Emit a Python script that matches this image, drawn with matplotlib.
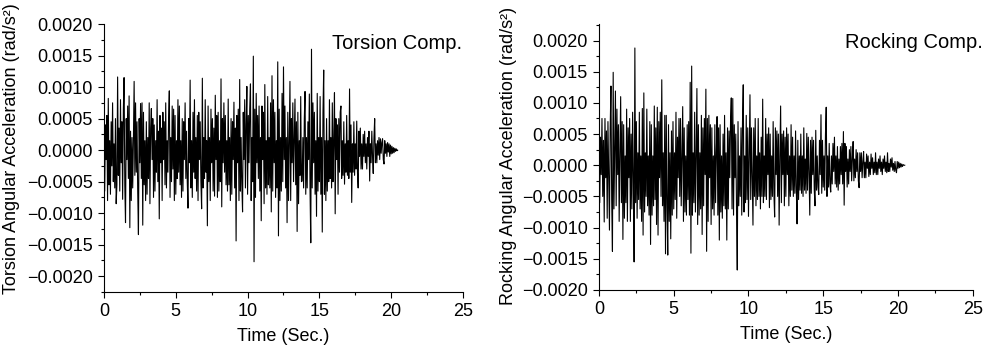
import numpy as np
import matplotlib
matplotlib.use("Agg")
import matplotlib.pyplot as plt
from matplotlib.ticker import MultipleLocator, FuncFormatter

plt.rcParams['font.family'] = ['Liberation Sans', 'DejaVu Sans']

dt = 0.05
torsion = [
    2.5, -6.5, 4.0, -1.5, 5.5, -8.0, 8.2, -5.5, 1.5, -7.0,
    4.5, -2.5, 7.5, -5.0, 1.0, -6.0, 5.0, -8.5, -5.5, 11.6,
    -4.0, 3.5, -6.5, 8.0, -2.0, 4.5, -7.8, 6.5, 11.5, -5.5,
    -11.5, 5.0, -1.5, 7.0, -4.5, 8.6, -12.3, 3.0, -8.0, 2.0,
    -6.0, 1.5, 10.9, -4.0, 7.5, -3.5, 4.5, -6.5, -13.4, 5.0,
    -2.0, 7.4, -4.5, 7.5, -11.9, 6.0, -5.5, 1.5, -8.0, 4.5,
    -7.0, 2.0, -4.5, 7.5, -8.5, 3.5, 6.6, -1.5, 5.0, -7.5,
    4.0, -6.5, 1.5, -3.5, 8.0, -5.0, 3.0, -10.9, 5.5, -2.0,
    3.5, -8.0, 6.0, -1.5, 4.5, -5.5, 7.5, -6.0, 1.5, -3.5,
    5.0, 9.4, -7.5, 2.0, -5.0, 7.0, -3.0, 6.5, -8.0, 5.5,
    -7.0, 1.5, -4.5, 8.0, -3.5, 7.0, -5.5, 1.5, -7.5, 5.0,
    -6.5, 4.5, -1.5, 7.5, -4.5, 3.0, -5.0, -9.2, 5.0, -2.0,
    11.1, -6.0, 1.5, -7.5, 6.0, -3.5, 8.0, -4.5, 2.0, -6.5,
    5.5, -8.0, 6.0, -1.5, 4.5, -5.0, -9.3, 11.4, -6.0, 2.0,
    -4.5, 8.0, -3.5, 1.5, -12.0, 7.0, -5.0, 2.0, -8.0, 6.5,
    -2.0, 5.0, -6.5, 3.5, -7.3, 8.7, -1.5, 5.5, -7.5, 6.0,
    -6.5, 1.5, -5.0, 11.3, -9.0, 5.0, -2.0, 7.5, -3.5, 5.5,
    -5.5, 1.5, -6.5, 8.1, -5.5, 2.0, -8.0, 5.0, -7.0, 4.5,
    -1.5, 7.6, -6.0, 3.5, -14.4, 5.5, -2.0, 6.5, -8.0, 11.2,
    -6.5, 2.0, -5.5, -9.8, 6.0, -1.5, 8.0, -6.0, 4.0, 10.1,
    -7.0, 5.5, -2.0, 6.5, 10.5, -8.0, 2.0, -5.0, 14.9, -17.7,
    6.5, -7.5, 9.0, -2.0, 5.5, -4.5, 7.0, -6.5, 2.0, -11.2,
    7.0, -1.5, 6.0, -8.5, 10.4, -6.0, 1.5, -7.0, 8.5, -5.5,
    2.0, -6.0, 7.5, -9.8, 11.8, -6.5, 8.0, -2.0, 6.0, -7.5,
    1.5, -6.0, 14.0, -13.6, 6.5, -8.0, 2.0, -6.5, 9.0, -5.0,
    13.2, -1.5, 7.0, -6.0, 2.0, -11.5, 6.0, -8.0, 1.5, 10.9,
    -8.0, 5.0, -2.0, 7.5, -5.0, 1.5, 8.1, -5.5, 4.5, -12.9,
    6.0, -8.5, 1.5, -4.0, 8.5, -5.0, -4.9, 2.0, -6.0, 5.0,
    9.3, -7.0, 2.0, -6.0, 4.5, -1.5, 8.9, -6.5, -14.7, 16.0,
    -6.0, 7.5, -2.0, 6.0, -7.0, 1.5, -10.5, 9.0, -6.5, 2.0,
    -5.0, 8.5, -7.0, 2.0, -13.0, 6.0, 12.7, -7.0, 1.5, -8.0,
    5.0, -6.5, 1.5, -5.0, 8.0, -4.5, 2.0, -6.0, 7.5, -5.0,
    1.5, 9.1, -10.1, 5.0, -1.5, 4.0, -7.0, 5.0, -3.5, 6.0,
    7.0, -4.5, 1.5, -4.0, 4.5, -5.4, 1.0, -3.5, 5.5, -4.0,
    1.5, -4.5, 9.7, -3.5, 4.0, -8.3, 1.0, -3.5, 4.5, -4.0,
    1.0, -3.0, 4.6, -3.5, -6.0, 3.0, -1.0, 3.5, -3.0, 1.0,
    -3.0, 2.5, -1.0, 3.0, -2.0, 1.0, -3.0, 2.0, -1.0, 3.0,
    -4.9, 1.0, -2.0, 3.0, -1.0, -3.7, 2.0, 5.0, -2.0, 1.0,
    -2.0, 1.5, -0.8, 2.0, -1.5, 1.8, -0.5, 1.2, 1.8, -1.5,
    -2.2, 1.5, -0.5, 1.0, -1.0, 1.2, -0.3, 1.0, -1.0, 0.8,
    -0.6, 0.6, -0.5, 0.4, -0.4, 0.3, -0.2, 0.2, -0.1, 0.0,
]
rocking = [
    2.0, -6.0, 4.5, -1.5, 7.5, -5.0, 4.0, -9.1, 7.5, -2.0,
    5.5, -8.5, 7.0, -1.5, -10.4, 6.0, 12.7, -5.5, -13.8, 14.9,
    -7.0, 2.0, 11.9, -6.5, 9.0, -1.5, 6.5, -9.0, 2.0, 11.0,
    -6.0, 7.0, -11.9, 6.5, -8.5, 1.5, -6.0, 9.0, -9.0, 6.0,
    -2.0, 7.5, -9.0, 5.0, -7.0, 8.5, -2.0, -15.5, 18.8, -6.0,
    7.0, -8.5, 2.0, -5.5, 8.5, -7.0, 1.5, -9.0, 9.1, -11.2,
    11.6, -7.5, 2.0, -5.0, 9.0, -6.5, 1.5, -8.0, 7.0, -12.7,
    6.5, -8.0, 1.5, -6.5, 9.5, -5.5, 6.0, -9.5, 9.3, -11.2,
    7.0, -2.0, 8.5, -5.0, 13.7, -6.5, 2.0, -9.0, 8.0, -14.2,
    8.0, -6.0, -14.4, 6.5, -9.0, 2.0, -11.8, 5.5, -8.0, 7.0,
    -7.0, 2.0, -5.5, 8.5, -8.5, 4.5, -2.0, 7.5, -5.0, 7.5,
    -6.5, 2.0, 9.4, -9.0, 6.0, -7.5, 1.5, -8.0, 6.5, -5.5,
    7.0, -8.0, 13.3, -14.1, 15.9, -8.0, 2.0, -6.0, 8.5, -7.5,
    1.5, 12.3, -9.5, 6.5, -8.0, 2.0, -7.0, 8.0, -11.1, 6.0,
    -6.5, 7.5, -1.5, 12.2, -13.8, 7.5, -9.0, 8.0, -2.0, 6.5,
    -9.5, 6.0, -7.0, 1.5, -8.0, 6.5, -6.0, 2.0, 7.8, -8.0,
    6.0, -12.0, 6.5, -7.5, 1.5, -8.5, 5.0, -6.5, 8.0, -7.0,
    2.0, -12.0, 6.0, -7.0, 5.5, -2.0, 7.0, 10.8, -7.0, 10.7,
    -8.0, 6.5, -2.0, 5.0, -7.0, -16.8, 7.0, -6.5, 1.5, -5.0,
    6.0, -8.0, 7.0, 12.9, -7.5, 1.5, -6.0, 8.0, -5.5, 6.0,
    -8.2, 1.5, 11.3, -5.5, 6.0, -2.0, -9.6, 6.0, -5.0, 7.5,
    -6.5, 1.5, -5.5, 7.5, -5.0, 2.0, -7.0, 4.5, -5.0, 10.6,
    -6.0, 1.5, -5.0, 7.5, -5.5, 5.0, -1.5, 6.0, -6.8, 5.0,
    -5.5, 1.5, -5.0, 7.0, -4.5, -8.3, 6.0, -1.5, 5.5, -5.0,
    5.0, -9.6, 1.5, 9.5, -6.0, 5.0, -1.5, 5.5, -6.5, 4.5,
    -5.0, 6.0, -1.5, 5.0, -6.5, 1.5, -5.0, 6.5, -4.0, 4.5,
    -5.0, 1.5, -4.5, 5.5, -4.0, -9.4, 4.0, -5.5, 1.5, -4.0,
    5.0, -4.5, 1.5, -5.0, 6.0, -4.0, 1.0, -4.5, 5.1, -4.0,
    4.5, -1.0, -8.0, 4.0, -4.5, 4.5, -1.5, 4.0, -4.0, -6.5,
    5.6, -4.0, 1.5, -3.5, -4.7, 4.0, -1.5, 8.1, -4.5, 4.0,
    -3.5, 1.5, -4.0, 5.0, 9.3, -5.0, 1.5, -3.5, 3.5, -3.0,
    -4.3, 1.5, -3.0, 3.5, -1.0, 4.5, -3.0, 1.5, -3.5, 3.0,
    -4.0, 1.0, -3.0, 3.0, -1.5, 3.5, -3.0, 5.4, -6.4, 3.5,
    -1.0, 3.0, -3.5, 1.0, -3.0, 2.5, -1.0, 3.0, -2.5, 1.0,
    3.8, -2.5, 1.0, -2.0, 2.5, -1.0, 2.0, -2.5, -3.6, 2.0,
    -1.0, 2.0, -2.0, 0.5, 2.2, -2.0, 0.5, -2.0, 1.8, -0.5,
    1.5, -1.8, 0.5, -1.5, 1.8, -0.5, 1.2, -1.5, 0.5, -1.2,
    2.0, -1.5, 0.5, -1.5, 1.0, -0.5, 1.5, -1.0, 0.5, -1.5,
    1.0, -0.5, 1.5, -1.0, 0.5, -1.2, 2.0, -1.0, 0.3, -1.0,
    1.0, -0.3, 1.2, -0.8, 0.3, -1.0, 0.6, -0.8, -1.2, 0.6,
    -0.5, 0.5, -0.4, 0.3, -0.3, 0.2, -0.2, 0.1, 0.0, 0.0,
]

t_tor = np.arange(len(torsion)) * dt
t_roc = np.arange(len(rocking)) * dt
tor = np.array(torsion) * 1e-4
roc = np.array(rocking) * 1e-4

def fmt(v, pos):
    s = f"{v:.4f}"
    if s.startswith('-') and float(s) != 0:
        s = '\u2212' + s[1:]
    elif s.startswith('-'):
        s = s[1:]
    return s

fig = plt.figure(figsize=(9.94, 3.47), dpi=100)
ax1 = fig.add_axes([0.1046, 0.1585, 0.3612, 0.7723])
ax2 = fig.add_axes([0.6026, 0.1643, 0.3760, 0.7657])

panels = [
    (ax1, t_tor, tor, (-0.00225, 0.0020), 'Torsion Angular Acceleration (rad/s\u00b2)',
     'Torsion Comp.', (0.997, 0.929), (-0.234, 0.534)),
    (ax2, t_roc, roc, (-0.0020, 0.00226), 'Rocking Angular Acceleration (rad/s\u00b2)',
     'Rocking Comp.', (1.027, 0.933), (-0.220, 0.504)),
]

for ax, t, y, ylim, ylab, name, tpos, lpos in panels:
    ax.plot(t, y, color='black', lw=0.8)
    ax.set_xlim(0, 25)
    ax.set_ylim(*ylim)
    ax.xaxis.set_major_locator(MultipleLocator(5))
    ax.xaxis.set_minor_locator(MultipleLocator(2.5))
    ax.yaxis.set_major_locator(MultipleLocator(0.0005))
    ax.yaxis.set_minor_locator(MultipleLocator(0.00025))
    ax.yaxis.set_major_formatter(FuncFormatter(fmt))
    for s in ['top', 'right']:
        ax.spines[s].set_visible(False)
    ax.tick_params(which='major', direction='out', length=4, width=0.8, labelsize=13, pad=4)
    ax.tick_params(which='minor', direction='out', length=2, width=0.8)
    ax.set_xlabel('Time (Sec.)', fontsize=13, labelpad=6)
    ax.set_ylabel(ylab, fontsize=13)
    ax.yaxis.set_label_coords(*lpos)
    ax.text(tpos[0], tpos[1], name, transform=ax.transAxes, ha='right', va='center', fontsize=14.5)

fig.savefig('out.png', dpi=100)
